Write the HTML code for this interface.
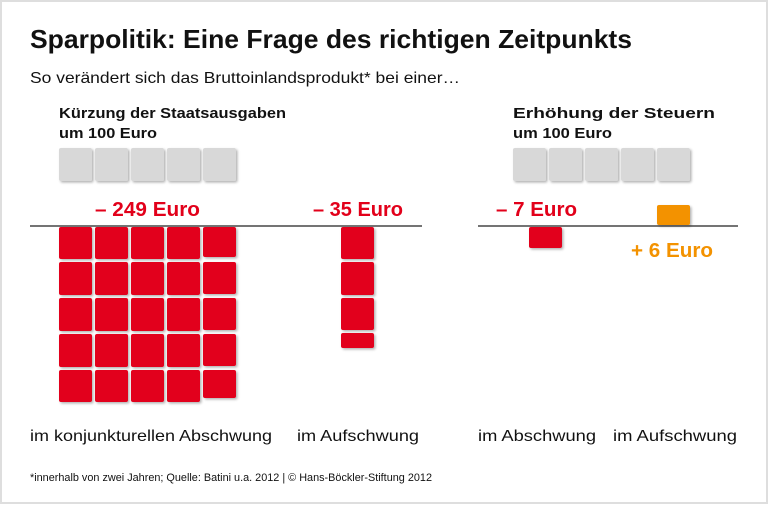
<!DOCTYPE html>
<html><head><meta charset="utf-8"><style>
html,body{margin:0;padding:0;background:#fff}
svg{display:block}
</style></head><body>
<svg width="768" height="505" viewBox="0 0 768 505" xmlns="http://www.w3.org/2000/svg" font-family="Liberation Sans, sans-serif">
<rect x="1" y="1" width="766" height="502" fill="#fff" stroke="#dedede" stroke-width="2"/>
<defs>
<filter id="sh" x="-20%" y="-20%" width="150%" height="150%"><feDropShadow dx="1.5" dy="1.5" stdDeviation="1.2" flood-color="#000" flood-opacity="0.3"/></filter>
</defs>
<text x="30" y="48" font-size="26" font-weight="bold" fill="#111" textLength="602" lengthAdjust="spacingAndGlyphs">Sparpolitik: Eine Frage des richtigen Zeitpunkts</text>
<text x="30" y="83" font-size="16" fill="#111" textLength="430" lengthAdjust="spacingAndGlyphs">So verändert sich das Bruttoinlandsprodukt* bei einer…</text>
<g font-size="15" font-weight="bold" fill="#111">
<text x="59" y="118" textLength="227" lengthAdjust="spacingAndGlyphs">Kürzung der Staatsausgaben</text>
<text x="59" y="138" textLength="98" lengthAdjust="spacingAndGlyphs">um 100 Euro</text>
<text x="513" y="118" textLength="202" lengthAdjust="spacingAndGlyphs">Erhöhung der Steuern</text>
<text x="513" y="138" textLength="99" lengthAdjust="spacingAndGlyphs">um 100 Euro</text>
</g>
<g fill="#d8d8d8" filter="url(#sh)">
<rect x="59" y="148" width="33" height="33" rx="2"/><rect x="95" y="148" width="33" height="33" rx="2"/><rect x="131" y="148" width="33" height="33" rx="2"/><rect x="167" y="148" width="33" height="33" rx="2"/><rect x="203" y="148" width="33" height="33" rx="2"/>
<rect x="513" y="148" width="33" height="33" rx="2"/><rect x="549" y="148" width="33" height="33" rx="2"/><rect x="585" y="148" width="33" height="33" rx="2"/><rect x="621" y="148" width="33" height="33" rx="2"/><rect x="657" y="148" width="33" height="33" rx="2"/>
</g>
<g font-size="20" font-weight="bold">
<text x="95" y="216" fill="#e2001a" textLength="105" lengthAdjust="spacingAndGlyphs">– 249 Euro</text>
<text x="313" y="216" fill="#e2001a" textLength="90" lengthAdjust="spacingAndGlyphs">– 35 Euro</text>
<text x="496" y="216" fill="#e2001a" textLength="81" lengthAdjust="spacingAndGlyphs">– 7 Euro</text>
<text x="631" y="257" fill="#f39200" textLength="82" lengthAdjust="spacingAndGlyphs">+ 6 Euro</text>
</g>
<g fill="#e2001a" filter="url(#sh)">
<rect x="59" y="227" width="33" height="32" rx="2"/><rect x="95" y="227" width="33" height="32" rx="2"/><rect x="131" y="227" width="33" height="32" rx="2"/><rect x="167" y="227" width="33" height="32" rx="2"/><rect x="203" y="227" width="33" height="30" rx="2"/>
<rect x="59" y="262" width="33" height="33" rx="2"/><rect x="95" y="262" width="33" height="33" rx="2"/><rect x="131" y="262" width="33" height="33" rx="2"/><rect x="167" y="262" width="33" height="33" rx="2"/><rect x="203" y="262" width="33" height="32" rx="2"/>
<rect x="59" y="298" width="33" height="33" rx="2"/><rect x="95" y="298" width="33" height="33" rx="2"/><rect x="131" y="298" width="33" height="33" rx="2"/><rect x="167" y="298" width="33" height="33" rx="2"/><rect x="203" y="298" width="33" height="32" rx="2"/>
<rect x="59" y="334" width="33" height="33" rx="2"/><rect x="95" y="334" width="33" height="33" rx="2"/><rect x="131" y="334" width="33" height="33" rx="2"/><rect x="167" y="334" width="33" height="33" rx="2"/><rect x="203" y="334" width="33" height="32" rx="2"/>
<rect x="59" y="370" width="33" height="32" rx="2"/><rect x="95" y="370" width="33" height="32" rx="2"/><rect x="131" y="370" width="33" height="32" rx="2"/><rect x="167" y="370" width="33" height="32" rx="2"/><rect x="203" y="370" width="33" height="28" rx="2"/>
<rect x="341" y="227" width="33" height="32" rx="2"/><rect x="341" y="262" width="33" height="33" rx="2"/><rect x="341" y="298" width="33" height="32" rx="2"/><rect x="341" y="333" width="33" height="15" rx="2"/>
<rect x="529" y="227" width="33" height="21" rx="2"/>
</g>
<rect x="657" y="205" width="33" height="20" rx="2" fill="#f39200" filter="url(#sh)"/>
<line x1="30" y1="226" x2="422" y2="226" stroke="#222" stroke-width="1.3"/>
<line x1="478" y1="226" x2="738" y2="226" stroke="#222" stroke-width="1.3"/>
<g font-size="16" fill="#111">
<text x="30" y="441" textLength="242" lengthAdjust="spacingAndGlyphs">im konjunkturellen Abschwung</text>
<text x="297" y="441" textLength="122" lengthAdjust="spacingAndGlyphs">im Aufschwung</text>
<text x="478" y="441" textLength="118" lengthAdjust="spacingAndGlyphs">im Abschwung</text>
<text x="613" y="441" textLength="124" lengthAdjust="spacingAndGlyphs">im Aufschwung</text>
</g>
<text x="30" y="481" font-size="11" fill="#111" textLength="402" lengthAdjust="spacingAndGlyphs">*innerhalb von zwei Jahren; Quelle: Batini u.a. 2012 | © Hans-Böckler-Stiftung 2012</text>
</svg>
</body></html>
